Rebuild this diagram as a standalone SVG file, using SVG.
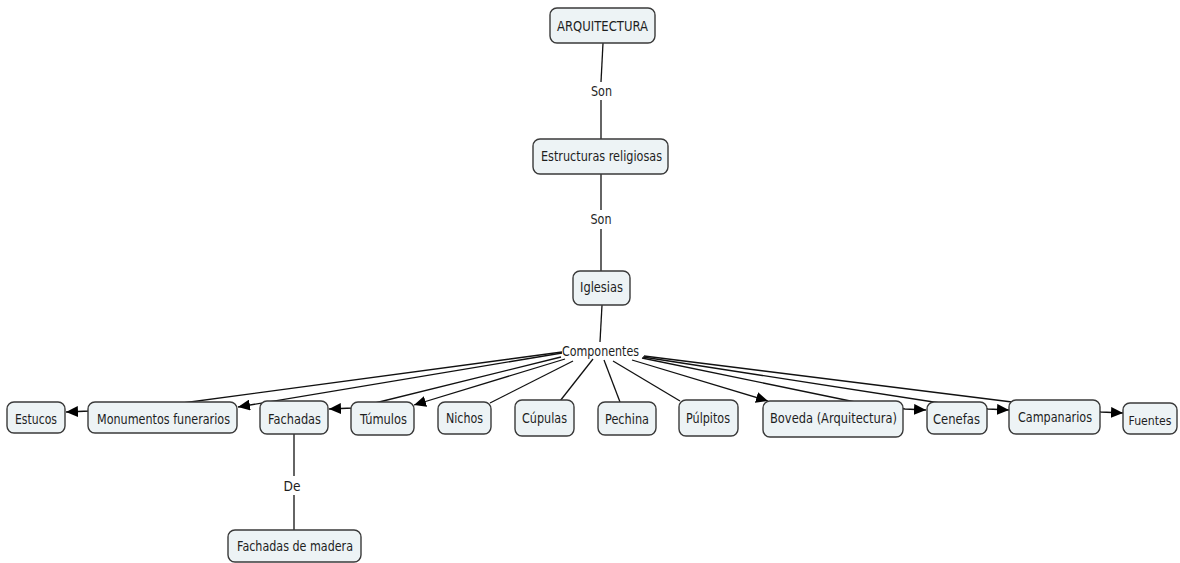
<svg xmlns="http://www.w3.org/2000/svg" width="1180" height="563" viewBox="0 0 1180 563">
<style>
.bg{fill:#ffffff}
.node rect{fill:#edf3f5;stroke:#3a3a3a;stroke-width:1.4}
text{font-family:"DejaVu Sans","Liberation Sans",sans-serif;font-size:14.5px;fill:#1e1e1e;text-anchor:middle}
.c{fill:none;stroke:#111;stroke-width:1.3}
.a{marker-end:url(#arr)}
</style>
<defs>
<marker id="arr" viewBox="0 0 12 11" refX="12" refY="5.5" markerWidth="12" markerHeight="11" markerUnits="userSpaceOnUse" orient="auto">
<path d="M0,0 L12,5.5 L0,11 z" fill="#000"/>
</marker>
</defs>
<rect class="bg" x="0" y="0" width="1180" height="563"/>
<g id="connectors">
<path class="c" d="M603,43 L601,82"/>
<path class="c" d="M601,100 L601,139"/>
<path class="c" d="M601,174 L601,210"/>
<path class="c" d="M601,229 L601,271"/>
<path class="c" d="M602,305 L600,342"/>
<path class="c" d="M294,434 L294,476"/>
<path class="c" d="M294,495 L294,530"/>
<path class="c a" d="M562,352 L175,404 L90,411 L66,412"/>
<path class="c a" d="M562,353 L238,407"/>
<path class="c a" d="M561,357 L375,403 L353,408 L329,409"/>
<path class="c a" d="M565,359 L414,405"/>
<path class="c" d="M573,361 L490,403"/>
<path class="c" d="M593,359 L560,401"/>
<path class="c" d="M604,360 L620,402"/>
<path class="c" d="M613,361 L680,401"/>
<path class="c a" d="M632,360 L768,401"/>
<path class="c a" d="M642,358 L860,403 L905,409 L926,410"/>
<path class="c a" d="M643,357 L940,403 L988,409 L1009,410"/>
<path class="c a" d="M644,356 L1012,402 L1101,412 L1123,413"/>
</g>
<g id="n-arquitectura" class="node"><rect x="550" y="8" width="105" height="35" rx="7"/><text x="602.5" y="31" textLength="91" lengthAdjust="spacingAndGlyphs">ARQUITECTURA</text></g>
<g id="l-son1"><text x="601.5" y="96" textLength="21" lengthAdjust="spacingAndGlyphs">Son</text></g>
<g id="n-estructuras" class="node"><rect x="533" y="139" width="135" height="35" rx="7"/><text x="601.5" y="161" textLength="121" lengthAdjust="spacingAndGlyphs">Estructuras religiosas</text></g>
<g id="l-son2"><text x="601" y="224" textLength="21" lengthAdjust="spacingAndGlyphs">Son</text></g>
<g id="n-iglesias" class="node"><rect x="573" y="271" width="57" height="34" rx="7"/><text x="601.5" y="292" textLength="43" lengthAdjust="spacingAndGlyphs">Iglesias</text></g>
<g id="l-componentes"><text x="600.5" y="356" textLength="77" lengthAdjust="spacingAndGlyphs">Componentes</text></g>
<g id="n-estucos" class="node"><rect x="7" y="402" width="58" height="31" rx="7"/><text x="36" y="424" textLength="42" lengthAdjust="spacingAndGlyphs">Estucos</text></g>
<g id="n-monumentos" class="node"><rect x="88" y="402" width="149" height="31" rx="7"/><text x="163.5" y="424" textLength="133" lengthAdjust="spacingAndGlyphs">Monumentos funerarios</text></g>
<g id="n-fachadas" class="node"><rect x="260" y="401" width="68" height="33" rx="7"/><text x="294.5" y="424" textLength="53" lengthAdjust="spacingAndGlyphs">Fachadas</text></g>
<g id="n-tumulos" class="node"><rect x="351" y="402" width="63" height="33" rx="7"/><text x="383.5" y="424" textLength="47" lengthAdjust="spacingAndGlyphs">Túmulos</text></g>
<g id="n-nichos" class="node"><rect x="438" y="402" width="53" height="32" rx="7"/><text x="464.5" y="423" textLength="37" lengthAdjust="spacingAndGlyphs">Nichos</text></g>
<g id="n-cupulas" class="node"><rect x="515" y="400" width="59" height="36" rx="7"/><text x="544.5" y="423" textLength="45" lengthAdjust="spacingAndGlyphs">Cúpulas</text></g>
<g id="n-pechina" class="node"><rect x="598" y="402" width="58" height="33" rx="7"/><text x="627" y="424" textLength="44" lengthAdjust="spacingAndGlyphs">Pechina</text></g>
<g id="n-pulpitos" class="node"><rect x="679" y="400" width="59" height="36" rx="7"/><text x="708" y="423" textLength="44" lengthAdjust="spacingAndGlyphs">Púlpitos</text></g>
<g id="n-boveda" class="node"><rect x="763" y="401" width="140" height="36" rx="7"/><text x="833.5" y="423" textLength="127" lengthAdjust="spacingAndGlyphs">Boveda (Arquitectura)</text></g>
<g id="n-cenefas" class="node"><rect x="927" y="402" width="60" height="32" rx="7"/><text x="956.5" y="424" textLength="47" lengthAdjust="spacingAndGlyphs">Cenefas</text></g>
<g id="n-campanarios" class="node"><rect x="1009" y="400" width="91" height="34" rx="7"/><text x="1055" y="422" textLength="74" lengthAdjust="spacingAndGlyphs">Campanarios</text></g>
<g id="n-fuentes" class="node"><rect x="1123" y="403" width="54" height="31" rx="7"/><text x="1150" y="425" style="font-size:13px" textLength="43" lengthAdjust="spacingAndGlyphs">Fuentes</text></g>
<g id="l-de"><text x="292" y="491" textLength="17" lengthAdjust="spacingAndGlyphs">De</text></g>
<g id="n-fachadas-madera" class="node"><rect x="228" y="530" width="133" height="32" rx="7"/><text x="295" y="551" textLength="116" lengthAdjust="spacingAndGlyphs">Fachadas de madera</text></g>
</svg>
